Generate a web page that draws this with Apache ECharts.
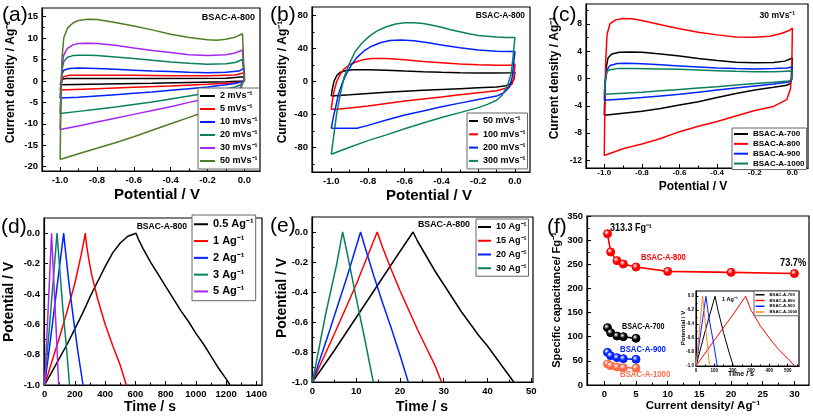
<!DOCTYPE html>
<html><head><meta charset="utf-8">
<script src="https://cdn.jsdelivr.net/npm/echarts@6/dist/echarts.min.js"></script>
<style>html,body{margin:0;padding:0;background:#fff}#c{width:813px;height:416px}</style>
</head><body><div id="c"></div>
<script>
// ---------- tick labels ----------
const cvXTicks = [-1.0,-0.8,-0.6,-0.4,-0.2,0.0];
const cvXMinor = [-0.9,-0.7,-0.5,-0.3,-0.1];
const aYTicks = [-20,-15,-10,-5,0,5,10,15];
const aYMinor = [-17.5,-12.5,-7.5,-2.5,2.5,7.5,12.5];
const bYTicks = [-80,-40,0,40,80];
const bYMinor = [-100,-60,-20,20,60];
const cYTicks = [-12,-8,-4,0,4,8];
const cYMinor = [-10,-6,-2,2,6,10];
const dXTicks = [0,200,400,600,800,1000,1200,1400];
const dXMinor = [100,300,500,700,900,1100,1300];
const vYTicks = [-1.0,-0.8,-0.6,-0.4,-0.2,0.0];
const vYMinor = [-0.9,-0.7,-0.5,-0.3,-0.1];
const eXTicks = [0,10,20,30,40,50];
const eXMinor = [5,15,25,35,45];
const fXTicks = [0,5,10,15,20,25,30];
const fXMinor = [2.5,7.5,12.5,17.5,22.5,27.5];
const fYTicks = [0,50,100,150,200,250,300,350];
const fYMinor = [25,75,125,175,225,275,325];
const insXTicks = [0,100,200,300,400,500];
const insXMinor = [50,150,250,350,450,550];

// ---------- (a) CV, BSAC-A-800, 2-50 mV/s ----------
const a2 = [[-1.0,-0.9],[-0.99,0.3],[-0.97,0.55],[-0.5,0.55],[-0.1,0.6],[0,1.0],[0,0],[-0.1,-0.2],[-0.5,-0.55],[-1.0,-0.9]];
const a5 = [[-1.0,-2.1],[-0.99,0],[-0.98,1.0],[-0.95,1.3],[-0.8,1.35],[-0.6,1.3],[-0.4,1.2],[-0.2,1.2],[-0.05,1.4],[0,1.9],[0,0],[-0.05,-0.4],[-0.2,-0.8],[-0.4,-1.2],[-0.6,-1.5],[-0.8,-1.8],[-1.0,-2.1]];
const a10 = [[-1.0,-4.0],[-0.995,-1],[-0.99,1.5],[-0.98,2.5],[-0.95,2.9],[-0.9,3.0],[-0.8,2.9],[-0.7,2.7],[-0.6,2.5],[-0.5,2.3],[-0.4,2.2],[-0.3,2.0],[-0.2,1.9],[-0.1,2.0],[-0.03,2.3],[0,3.0],[0,0],[-0.05,-0.6],[-0.1,-0.9],[-0.2,-1.4],[-0.3,-1.8],[-0.4,-2.2],[-0.5,-2.6],[-0.6,-2.9],[-0.7,-3.2],[-0.8,-3.5],[-0.9,-3.8],[-1.0,-4.0]];
const a20 = [[-1.0,-7.6],[-0.995,-2],[-0.99,2.5],[-0.98,4.5],[-0.96,5.5],[-0.93,5.9],[-0.9,6.0],[-0.85,6.0],[-0.8,5.9],[-0.7,5.6],[-0.6,5.2],[-0.5,4.8],[-0.4,4.4],[-0.3,4.1],[-0.2,3.9],[-0.1,4.0],[-0.05,4.3],[-0.01,5.0],[0,5.3],[0,0.3],[-0.02,-0.9],[-0.05,-1.4],[-0.1,-1.9],[-0.2,-2.8],[-0.3,-3.5],[-0.4,-4.2],[-0.5,-4.9],[-0.6,-5.5],[-0.7,-6.1],[-0.8,-6.6],[-0.9,-7.1],[-1.0,-7.6]];
const a30 = [[-1.0,-11.3],[-0.995,-3],[-0.99,3],[-0.98,6.0],[-0.96,7.6],[-0.93,8.4],[-0.9,8.7],[-0.85,8.8],[-0.8,8.7],[-0.7,8.3],[-0.6,7.7],[-0.5,7.1],[-0.4,6.6],[-0.3,6.1],[-0.2,5.9],[-0.1,6.1],[-0.05,6.5],[-0.01,7.2],[0,7.4],[0,0.5],[-0.02,-1.5],[-0.05,-2.3],[-0.1,-3.0],[-0.2,-4.1],[-0.3,-5.0],[-0.4,-6.0],[-0.5,-6.9],[-0.6,-7.8],[-0.7,-8.7],[-0.8,-9.6],[-0.9,-10.5],[-1.0,-11.3]];
const a50 = [[-1.0,-18.3],[-0.995,-5],[-0.99,5],[-0.98,10],[-0.96,12.3],[-0.93,13.5],[-0.9,14.1],[-0.85,14.35],[-0.8,14.3],[-0.7,13.6],[-0.6,12.8],[-0.5,11.9],[-0.4,10.9],[-0.3,10.1],[-0.2,9.6],[-0.15,9.5],[-0.1,9.7],[-0.05,10.2],[-0.01,11.0],[0,11.3],[0,0.5],[-0.02,-2],[-0.05,-3.5],[-0.1,-5],[-0.2,-7.0],[-0.3,-8.5],[-0.4,-10.0],[-0.5,-11.5],[-0.6,-13.0],[-0.7,-14.4],[-0.8,-15.7],[-0.9,-17.0],[-1.0,-18.3]];

// ---------- (b) CV, 50-300 mV/s ----------
const b50 = [[-1.0,-18],[-0.995,-10],[-0.985,0],[-0.97,7],[-0.95,11],[-0.92,13],[-0.88,14],[-0.8,14],[-0.7,13.2],[-0.6,12.3],[-0.5,11.5],[-0.4,10.8],[-0.3,10.3],[-0.2,10],[-0.1,10],[-0.02,10.3],[0,11],[-0.005,3],[-0.02,-3],[-0.05,-5.5],[-0.1,-7],[-0.2,-8],[-0.3,-9],[-0.4,-10],[-0.5,-11],[-0.6,-12],[-0.7,-13.3],[-0.8,-14.8],[-0.9,-16.5],[-1.0,-18]];
const b100 = [[-1.0,-34],[-0.995,-25],[-0.985,-12],[-0.97,0],[-0.95,9],[-0.93,15],[-0.9,20],[-0.86,24],[-0.82,26.5],[-0.78,27.5],[-0.7,27.5],[-0.6,26],[-0.5,24],[-0.4,22.5],[-0.3,21],[-0.2,20],[-0.1,19.5],[-0.02,19.5],[0,21],[-0.005,5],[-0.015,-3],[-0.04,-8],[-0.1,-11.5],[-0.2,-14],[-0.3,-16.5],[-0.4,-19],[-0.5,-21.5],[-0.6,-24],[-0.7,-27],[-0.8,-30],[-0.9,-32.5],[-0.97,-34],[-1.0,-34]];
const b200 = [[-1.0,-57],[-0.99,-45],[-0.975,-30],[-0.96,-15],[-0.94,-2],[-0.92,8],[-0.89,20],[-0.86,29],[-0.82,37],[-0.78,42.5],[-0.73,47],[-0.68,49.5],[-0.62,50],[-0.55,49],[-0.48,47],[-0.4,44],[-0.3,40.5],[-0.2,38],[-0.1,36.5],[-0.03,36],[0,36],[-0.015,5],[-0.03,-7],[-0.06,-14],[-0.1,-18],[-0.2,-22],[-0.3,-26.5],[-0.4,-31],[-0.5,-36],[-0.6,-41],[-0.7,-47],[-0.8,-53.5],[-0.86,-57],[-1.0,-57]];
const b300 = [[-1.0,-88.5],[-0.98,-55],[-0.97,-38],[-0.95,-15],[-0.93,5],[-0.9,22],[-0.87,36],[-0.83,47],[-0.79,55],[-0.75,61],[-0.7,66],[-0.65,69.5],[-0.6,71],[-0.55,71],[-0.5,70],[-0.45,68],[-0.4,65.5],[-0.35,62.5],[-0.3,60],[-0.25,57.5],[-0.2,55.5],[-0.15,54.5],[-0.1,53.5],[-0.05,53],[0,53],[-0.01,30],[-0.02,10],[-0.04,-5],[-0.07,-17],[-0.1,-23],[-0.15,-28],[-0.2,-32],[-0.3,-38],[-0.4,-44],[-0.5,-50.5],[-0.6,-57.5],[-0.7,-65],[-0.8,-72],[-0.9,-80],[-1.0,-88.5]];

// ---------- (c) CV at 30 mV/s, four samples ----------
const c700 = [[-1.0,-5.4],[-0.995,-1],[-0.99,1.5],[-0.98,3.0],[-0.96,3.6],[-0.92,3.85],[-0.86,3.9],[-0.8,3.85],[-0.7,3.6],[-0.6,3.3],[-0.5,2.95],[-0.4,2.65],[-0.3,2.4],[-0.2,2.3],[-0.1,2.35],[-0.04,2.55],[0,3.0],[-0.003,0],[-0.01,-0.7],[-0.03,-1.0],[-0.1,-1.3],[-0.2,-1.7],[-0.3,-2.2],[-0.4,-2.8],[-0.5,-3.4],[-0.6,-3.9],[-0.7,-4.4],[-0.8,-4.8],[-0.9,-5.1],[-1.0,-5.4]];
const c800 = [[-1.0,-11.3],[-0.997,-5],[-0.993,2],[-0.985,6.5],[-0.97,8.0],[-0.94,8.6],[-0.9,8.8],[-0.85,8.75],[-0.8,8.5],[-0.7,7.9],[-0.6,7.3],[-0.5,6.8],[-0.4,6.4],[-0.3,6.1],[-0.2,6.05],[-0.12,6.2],[-0.06,6.6],[-0.02,7.0],[0,7.4],[-0.003,2],[-0.01,-1.5],[-0.03,-3.1],[-0.1,-4.1],[-0.2,-4.7],[-0.3,-5.5],[-0.4,-6.3],[-0.5,-7.0],[-0.6,-7.8],[-0.7,-8.8],[-0.8,-9.6],[-0.9,-10.3],[-1.0,-11.3]];
const c900 = [[-1.0,-3.2],[-0.995,-0.5],[-0.985,1.3],[-0.97,1.9],[-0.93,2.2],[-0.88,2.25],[-0.8,2.15],[-0.7,2.0],[-0.6,1.85],[-0.5,1.7],[-0.4,1.55],[-0.3,1.45],[-0.2,1.4],[-0.1,1.45],[-0.03,1.55],[0,1.7],[-0.005,-0.2],[-0.02,-0.5],[-0.1,-0.8],[-0.2,-1.1],[-0.3,-1.4],[-0.4,-1.7],[-0.5,-2.0],[-0.6,-2.3],[-0.7,-2.55],[-0.8,-2.8],[-0.9,-3.0],[-1.0,-3.2]];
const c1000 = [[-1.0,-2.3],[-0.995,-0.3],[-0.985,1.0],[-0.97,1.3],[-0.93,1.45],[-0.85,1.45],[-0.7,1.4],[-0.6,1.35],[-0.5,1.25],[-0.4,1.15],[-0.3,1.05],[-0.2,1.0],[-0.1,1.0],[0,1.1],[-0.005,-0.2],[-0.02,-0.35],[-0.1,-0.55],[-0.2,-0.75],[-0.3,-0.95],[-0.4,-1.2],[-0.5,-1.4],[-0.6,-1.6],[-0.7,-1.8],[-0.8,-2.0],[-0.9,-2.15],[-1.0,-2.3]];

// ---------- (d) GCD 0.5-5 A/g ----------
const d05 = [[0,-1],[50,-0.91],[100,-0.82],[150,-0.73],[200,-0.63],[250,-0.53],[300,-0.42],[350,-0.32],[400,-0.22],[450,-0.13],[500,-0.065],[550,-0.02],[605,0],[620,-0.04],[650,-0.1],[700,-0.19],[750,-0.27],[800,-0.35],[850,-0.43],[900,-0.51],[950,-0.58],[1000,-0.66],[1050,-0.73],[1100,-0.81],[1150,-0.89],[1200,-0.96],[1225,-1]];
const d1 = [[0,-1],[25,-0.92],[50,-0.84],[100,-0.68],[150,-0.51],[200,-0.33],[240,-0.15],[260,-0.05],[269,0],[275,-0.06],[290,-0.16],[310,-0.27],[350,-0.43],[400,-0.6],[450,-0.74],[500,-0.87],[540,-1]];
const d2 = [[0,-1],[30,-0.77],[60,-0.53],[90,-0.29],[115,-0.09],[126,0],[135,-0.09],[160,-0.32],[190,-0.56],[220,-0.78],[254,-1]];
const d3 = [[0,-1],[40,-0.52],[70,-0.15],[82,0],[95,-0.17],[120,-0.49],[145,-0.76],[165,-1]];
const d5 = [[0,-1],[25,-0.47],[46,0],[60,-0.3],[78,-0.67],[93,-1]];

// ---------- (e) GCD 10-30 A/g ----------
const e10 = [[0,-1],[5,-0.79],[10,-0.57],[15,-0.35],[20,-0.13],[23,0],[24,-0.06],[26,-0.16],[28,-0.26],[30,-0.35],[32,-0.44],[34,-0.53],[36,-0.61],[38,-0.69],[40,-0.76],[42,-0.84],[44,-0.92],[46,-1]];
const e15 = [[0,-1],[5,-0.68],[10,-0.35],[14.8,0],[16,-0.1],[18,-0.25],[20,-0.39],[22,-0.52],[24,-0.65],[26,-0.77],[28,-0.89],[29.5,-1]];
const e20 = [[0,-1],[4,-0.65],[8,-0.29],[11,0],[12,-0.1],[14,-0.29],[16,-0.47],[18,-0.64],[20,-0.82],[21.9,-1]];
const e30 = [[0,-1],[3,-0.55],[5.5,-0.22],[6.9,0],[8,-0.15],[10,-0.44],[12,-0.72],[13.9,-1]];

// ---------- (f) rate capability ----------
const fCurr800 = [0.5,1,2,3,5,10,20,30];
const fCap800 = [313.3,275.5,257.5,250.6,244.3,235.3,233.3,230.9];
const fCurrOther = [0.5,1,2,3,5];
const fCap700 = [118.7,108.4,101.4,100.0,96.6];
const fCap900 = [67.6,60.7,56.6,54.5,53.1];
const fCap1000 = [43.5,40.0,37.3,35.9,35.2];

// ---------- (f) inset: GCD at 1 A/g ----------
const ins700 = [[0,-1],[50,-0.5],[104,0],[120,-0.2],[150,-0.52],[180,-0.8],[204,-1]];
const ins800 = [[0,-1],[100,-0.63],[200,-0.27],[271,0],[300,-0.2],[350,-0.42],[400,-0.6],[450,-0.76],[500,-0.89],[540,-1]];
const ins900 = [[0,-1],[54,0],[70,-0.3],[95,-0.66],[116,-1]];
const ins1000 = [[0,-1],[36,0],[50,-0.36],[73,-1]];

// ---------- styling ----------
const FONT = 'Liberation Sans, Arial, Helvetica, sans-serif';
const COL = {black:'#000000', red:'#ff0000', blue:'#0022ff', teal:'#0b8060', purple:'#a626f2', olive:'#4f7d26', salmon:'#ff6a48', orange:'#ff8030'};

const grids = [
  {left:42, top:8, width:218, height:163},
  {left:312, top:7, width:218, height:165},
  {left:586, top:4, width:222, height:164},
  {left:44, top:218, width:218, height:167},
  {left:312, top:217, width:221, height:165},
  {left:587, top:216, width:222, height:169},
  {left:696, top:291, width:103, height:75}
].map(g => Object.assign({show:true, borderColor:'#000', borderWidth:1.2, backgroundColor:'#fff'}, g));

const f1 = v => v.toFixed(1);
const fi = v => String(v);
// [min,max,majors,minors,formatter,fontSize,margin]
const xSpec = [
  [-1.098,0.085,cvXTicks,cvXMinor,f1,9.5,4],
  [-1.105,0.082,cvXTicks,cvXMinor,f1,9.5,4],
  [-1.097,0.083,cvXTicks,cvXMinor,f1,8,1],
  [-4,1437,dXTicks,dXMinor,fi,9.5,4],
  [-0.1,50.4,eXTicks,eXMinor,fi,9.5,4],
  [-2.73,32.3,fXTicks,fXMinor,fi,9.5,4],
  [0,562,insXTicks,insXMinor,fi,4.5,2]
];
const ySpec = [
  [-21,17,aYTicks,aYMinor,fi,9.5,4],
  [-110,90,bYTicks,bYMinor,fi,9.5,4],
  [-13.13,10.93,cYTicks,cYMinor,fi,8.5,4],
  [-1,0.1,vYTicks,vYMinor,f1,9.5,4],
  [-1,0.1,vYTicks,vYMinor,f1,9.5,4],
  [0,350,fYTicks,fYMinor,fi,9.5,4],
  [-1,0.075,vYTicks,vYMinor,f1,4.5,2]
];
function mkAxes(spec, dim){
  const major = [], minor = [];
  spec.forEach((s, gi) => {
    const small = gi === 6;
    const base = {type:'value', gridIndex:gi, min:s[0], max:s[1], position: dim==='x'?'bottom':'left', splitLine:{show:false}, scale:false};
    major.push(Object.assign({}, base, {
      axisLine:{show:true, onZero:false, lineStyle:{color:'#000', width: small?1:1.2}},
      axisTick:{show:true, inside:true, length: small?2.5:4, customValues:s[2], lineStyle:{color:'#000', width:1}},
      axisLabel:{show:true, interval:0, hideOverlap:false, customValues:s[2], formatter:s[4], fontSize:s[5], fontWeight:'bold', fontFamily:FONT, color:'#000', margin:s[6]}
    }));
    minor.push(Object.assign({}, base, {
      axisLine:{show:false, onZero:false},
      axisTick:{show:true, inside:true, length: small?1.5:2.5, customValues:s[3], lineStyle:{color:'#000', width:1}},
      axisLabel:{show:false}
    }));
  });
  return major.concat(minor);
}

const DISPLAY = {
  a2:'2 mVs⁻¹', a5:'5 mVs⁻¹', a10:'10 mVs⁻¹', a20:'20 mVs⁻¹', a30:'30 mVs⁻¹', a50:'50 mVs⁻¹',
  b50:'50 mVs⁻¹', b100:'100 mVs⁻¹', b200:'200 mVs⁻¹', b300:'300 mVs⁻¹',
  c700:'BSAC-A-700', c800:'BSAC-A-800', c900:'BSAC-A-900', c1000:'BSAC-A-1000',
  d05:'0.5 Ag⁻¹', d1:'1 Ag⁻¹', d2:'2 Ag⁻¹', d3:'3 Ag⁻¹', d5:'5 Ag⁻¹',
  e10:'10 Ag⁻¹', e15:'15 Ag⁻¹', e20:'20 Ag⁻¹', e30:'30 Ag⁻¹',
  i700:'BSAC-A-700', i800:'BSAC-A-800', i900:'BSAC-A-900', i1000:'BSAC-A-1000'
};

function line(name, gi, data, color, width){
  return {type:'line', name, xAxisIndex:gi, yAxisIndex:gi, data, showSymbol:false, symbol:'none',
    lineStyle:{color, width: width||1.5}, itemStyle:{color}, smooth:false, animation:false, z:3, silent:true};
}
function ball(color){
  return {type:'radial', x:0.38, y:0.35, r:0.7, colorStops:[{offset:0, color:'#ffffff'},{offset:0.45, color:color},{offset:1, color:color}]};
}
function markers(name, gi, xs, ys, color){
  return {type:'line', name, xAxisIndex:gi, yAxisIndex:gi, data: xs.map((x,i)=>[x, ys[i]]),
    symbol:'circle', symbolSize:8, showSymbol:true, lineStyle:{color, width:1.6},
    itemStyle:{color: ball(color), borderColor: color, borderWidth:1}, animation:false, z:3, silent:true};
}

const series = [
  line('a2',0,a2,COL.black), line('a5',0,a5,COL.red), line('a10',0,a10,COL.blue),
  line('a20',0,a20,COL.teal), line('a30',0,a30,COL.purple), line('a50',0,a50,COL.olive),
  line('b50',1,b50,COL.black), line('b100',1,b100,COL.red), line('b200',1,b200,COL.blue), line('b300',1,b300,COL.teal),
  line('c700',2,c700,COL.black), line('c800',2,c800,COL.red), line('c900',2,c900,COL.blue), line('c1000',2,c1000,COL.teal),
  line('d05',3,d05,COL.black), line('d1',3,d1,COL.red), line('d2',3,d2,COL.blue), line('d3',3,d3,COL.teal), line('d5',3,d5,COL.purple),
  line('e10',4,e10,COL.black), line('e15',4,e15,COL.red), line('e20',4,e20,COL.blue), line('e30',4,e30,COL.teal),
  markers('f800',5,fCurr800,fCap800,COL.red),
  markers('f700',5,fCurrOther,fCap700,COL.black),
  markers('f900',5,fCurrOther,fCap900,COL.blue),
  markers('f1000',5,fCurrOther,fCap1000,COL.salmon),
  line('i700',6,ins700,COL.black,1), line('i800',6,ins800,COL.red,1), line('i900',6,ins900,COL.blue,1), line('i1000',6,ins1000,COL.orange,1)
];

function legend(names, left, top, fs, lh, gap, iw, pad, ih){
  return {show:true, orient:'vertical', left, top, data:names, icon:'rect', itemWidth:iw, itemHeight:ih||2,
    itemGap:gap, padding:pad, borderColor:'#666', borderWidth:1, backgroundColor:'#fff', selectedMode:false,
    formatter: n => DISPLAY[n], z:10,
    textStyle:{fontFamily:FONT, fontWeight:'bold', fontSize:fs, lineHeight:lh, color:'#000'}};
}
const legends = [
  legend(['a2','a5','a10','a20','a30','a50'], 198, 88, 9, 12, 1, 15, [2,2,2,2]),
  legend(['b50','b100','b200','b300'], 467, 113, 9, 12, 1.3, 9, [2,2,2,2]),
  legend(['c700','c800','c900','c1000'], 732, 128, 8, 9, 0.85, 14, [1.5,2,1.5,2]),
  legend(['d05','d1','d2','d3','d5'], 192, 215, 11, 14.5, 2.3, 14, [2,2,2,2]),
  legend(['e10','e15','e20','e30'], 476, 219, 9, 12, 1.75, 13, [2,2,2,2]),
  legend(['i700','i800','i900','i1000'], 754, 291, 4.3, 5.5, 0.25, 9, [1,1.5,1,1.5], 1.5)
];

function txt(text, x, y, size, opts){
  opts = opts || {};
  return {type:'text', x, y, rotation: opts.rot||0, scaleX: opts.sx||1, z:100, silent:true,
    style:{text, fill: opts.color||'#000', font: (opts.weight||'bold')+' '+size+'px '+FONT,
      align: opts.align||'center', verticalAlign: opts.va||'middle'}};
}
const R = Math.PI/2;
const graphics = [
  txt('(a)', 2, 15, 21, {weight:'normal', align:'left'}),
  txt('(b)', 270, 15, 21, {weight:'normal', align:'left'}),
  txt('(c)', 552, 15, 21, {weight:'normal', align:'left'}),
  txt('(d)', 1, 227, 21, {weight:'normal', align:'left'}),
  txt('(e)', 270, 226, 21, {weight:'normal', align:'left'}),
  txt('(f)', 547, 227, 21, {weight:'normal', align:'left'}),
  txt('BSAC-A-800', 255, 17, 9.5, {align:'right', sx:0.95}),
  txt('BSAC-A-800', 525, 15, 9.5, {align:'right', sx:0.88}),
  txt('30 mVs⁻¹', 795, 15, 9.5, {align:'right', sx:0.9}),
  txt('BSAC-A-800', 187, 226, 9.5, {align:'right', sx:0.9}),
  txt('BSAC-A-800', 470, 224, 9.5, {align:'right', sx:0.93}),
  txt('313.3 Fg⁻¹', 610, 228, 10, {align:'left', sx:0.9}),
  txt('BSAC-A-800', 641, 257, 9.5, {align:'left', color:COL.red, sx:0.8}),
  txt('73.7%', 780, 263, 10.5, {align:'left', sx:0.88}),
  txt('BSAC-A-700', 622, 326, 9.5, {align:'left', sx:0.76}),
  txt('BSAC-A-900', 620, 349, 9.5, {align:'left', color:COL.blue, sx:0.82}),
  txt('BSAC-A-1000', 620, 374, 9.5, {align:'left', color:COL.salmon, sx:0.82}),
  txt('1 Ag⁻¹', 722, 299, 5.5, {align:'left'}),
  txt('Potential / V', 683, 328, 6, {rot:R}),
  txt('Time / s', 741, 374, 7),
  // axis titles
  txt('Potential / V', 157, 195, 15),
  txt('Current density / Ag⁻¹', 11, 82, 12, {rot:R}),
  txt('Potential / V', 429, 196, 15),
  txt('Current density / Ag⁻¹', 283, 82, 12, {rot:R}),
  txt('Potential / V', 693, 186.5, 12),
  txt('Current density / Ag⁻¹', 555, 78, 12, {rot:R}),
  txt('Time / s', 150, 407, 14),
  txt('Potential / V', 9, 302, 14, {rot:R}),
  txt('Time / s', 422, 407, 14),
  txt('Potential / V', 282, 298, 14, {rot:R}),
  txt('Current density/ Ag⁻¹', 703, 406, 11.5),
  txt('Specific capacitance/ Fg⁻¹', 557, 300, 11, {rot:R})
];

const chart = echarts.init(document.getElementById('c'), null, {renderer:'canvas', width:813, height:416});
chart.setOption({
  backgroundColor:'#fff',
  animation:false,
  grid: grids,
  xAxis: mkAxes(xSpec, 'x'),
  yAxis: mkAxes(ySpec, 'y'),
  legend: legends,
  series: series,
  graphic: graphics
});
</script>
</body></html>
